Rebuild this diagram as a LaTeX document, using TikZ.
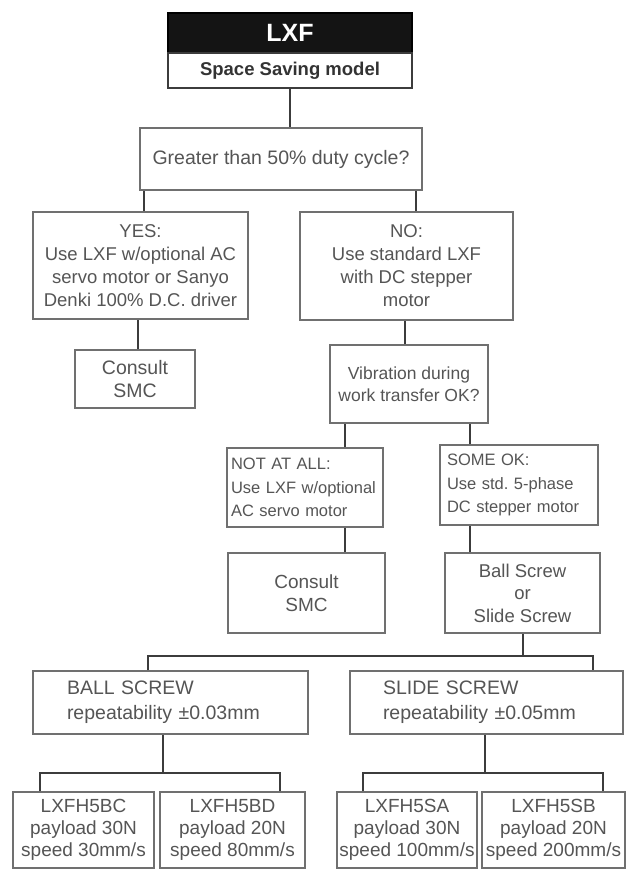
\documentclass[tikz,border=0pt]{standalone}
\usepackage{fontspec}
\setmainfont{Liberation Sans}
\frenchspacing
\definecolor{txt}{HTML}{555555}
\definecolor{boxc}{HTML}{707070}
\definecolor{linec}{HTML}{3C3C3C}
\begin{document}
\begin{tikzpicture}[x=1pt,y=-1pt,
  box/.style={draw=boxc, line width=1.6, fill=white, text=txt, inner sep=0pt, align=center},
  lbox/.style={box, align=left},
  conn/.style={draw=linec, line width=2},
  fA/.style={font=\fontsize{19.5}{23}\selectfont},
  fB/.style={font=\fontsize{18.5}{23}\selectfont},
  fC/.style={font=\fontsize{16.5}{23.5}\selectfont},
  fD/.style={font=\fontsize{19.5}{25}\selectfont},
  fE/.style={font=\fontsize{19}{21.7}\selectfont},
  bot/.style={box, fE, minimum height=76}
]
\path[use as bounding box, fill=white] (0,0) rectangle (626,870);

% top block
\node[draw=black, line width=1.6, fill=black!92, text=white, minimum width=244, minimum height=40, inner sep=0pt,
      font=\fontsize{25}{28}\selectfont\bfseries] (lxf) at (290,33) {LXF};
\node[draw=linec, line width=2, fill=white, text=black!80, minimum width=244, minimum height=35, inner sep=0pt,
      font=\fontsize{18.5}{22}\selectfont\bfseries] (space) at (290,70.5) {Space Saving model};

\node[box, fA, minimum width=282, minimum height=62] (greater) at (281,159) {Greater than 50\% duty cycle?};

\node[box, fB, minimum width=215, minimum height=107] (yes) at (140.5,265.5)
  {YES:\\Use LXF w/optional AC\\servo motor or Sanyo\\Denki 100\% D.C. driver};
\node[box, fB, minimum width=213, minimum height=108] (no) at (406.5,266)
  {NO:\\Use standard LXF\\with DC stepper\\motor};

\node[box, fA, minimum width=120, minimum height=58] (consult1) at (135,379) {Consult\\SMC};
\node[box, font=\fontsize{17.5}{22}\selectfont, minimum width=158, minimum height=78] (vib) at (409,384)
  {Vibration during\\work transfer OK?};

\node[lbox, fC, minimum width=156, minimum height=79, inner xsep=4pt, text width=148] (notatall) at (305,487.5)
  {NOT AT ALL:\\Use LXF w/optional\\AC servo motor};
\node[lbox, fC, minimum width=158, minimum height=80, inner xsep=7pt, text width=144] (someok) at (519,485)
  {SOME OK:\\Use std. 5-phase\\DC stepper motor};

\node[box, font=\fontsize{19}{22.5}\selectfont, minimum width=157, minimum height=80] (consult2) at (306.5,593) {Consult\\SMC};
\node[box, font=\fontsize{18.5}{22.5}\selectfont, minimum width=155, minimum height=80] (screw) at (522.5,593)
  {Ball Screw\\or\\Slide Screw};

\node[lbox, fD, minimum width=275, minimum height=63, inner xsep=34pt, text width=207] (ball) at (170.5,702.5)
  {BALL SCREW\\repeatability ±0.03mm};
\node[lbox, fD, minimum width=273, minimum height=63, inner xsep=33pt, text width=207] (slide) at (486.5,702.5)
  {SLIDE SCREW\\repeatability ±0.05mm};

\node[bot, minimum width=141] (b1) at (83.5,830) {LXFH5BC\\payload 30N\\speed 30mm/s};
\node[bot, minimum width=145] (b2) at (232.5,830) {LXFH5BD\\payload 20N\\speed 80mm/s};
\node[bot, minimum width=140] (b3) at (407,830) {LXFH5SA\\payload 30N\\speed 100mm/s};
\node[bot, minimum width=143] (b4) at (553.5,830) {LXFH5SB\\payload 20N\\speed 200mm/s};

% connectors
\draw[conn] (space.south) -- (space.south |- greater.north);
\draw[conn] ([xshift=3.5]yes.north) -- ([xshift=3.5]yes.north |- greater.south);
\draw[conn] ([xshift=9.5]no.north) -- ([xshift=9.5]no.north |- greater.south);
\draw[conn] ([xshift=3]consult1.north) -- ([xshift=3]consult1.north |- yes.south);
\draw[conn] ([xshift=-4]vib.north) -- ([xshift=-4]vib.north |- no.south);
\draw[conn] ([xshift=40]notatall.north) -- ([xshift=40]notatall.north |- vib.south);
\draw[conn] ([xshift=-49]someok.north) -- ([xshift=-49]someok.north |- vib.south);
\draw[conn] ([xshift=38.5]consult2.north) -- ([xshift=38.5]consult2.north |- notatall.south);
\draw[conn] ([xshift=-52.5]screw.north) -- ([xshift=-52.5]screw.north |- someok.south);

\draw[conn] (screw.south) -- ++(0,22) coordinate (j1);
\draw[conn] ([xshift=-22.5]ball.north) |- (j1) -| ([xshift=106.5]slide.north);

\draw[conn] ([xshift=-7.5]ball.south) -- ++(0,38) coordinate (j2);
\draw[conn] ([xshift=-43.5]b1.north) |- (j2) -| ([xshift=47.5]b2.north);

\draw[conn] ([xshift=-1.5]slide.south) -- ++(0,38) coordinate (j3);
\draw[conn] ([xshift=-44]b3.north) |- (j3) -| ([xshift=49.5]b4.north);
\end{tikzpicture}
\end{document}
